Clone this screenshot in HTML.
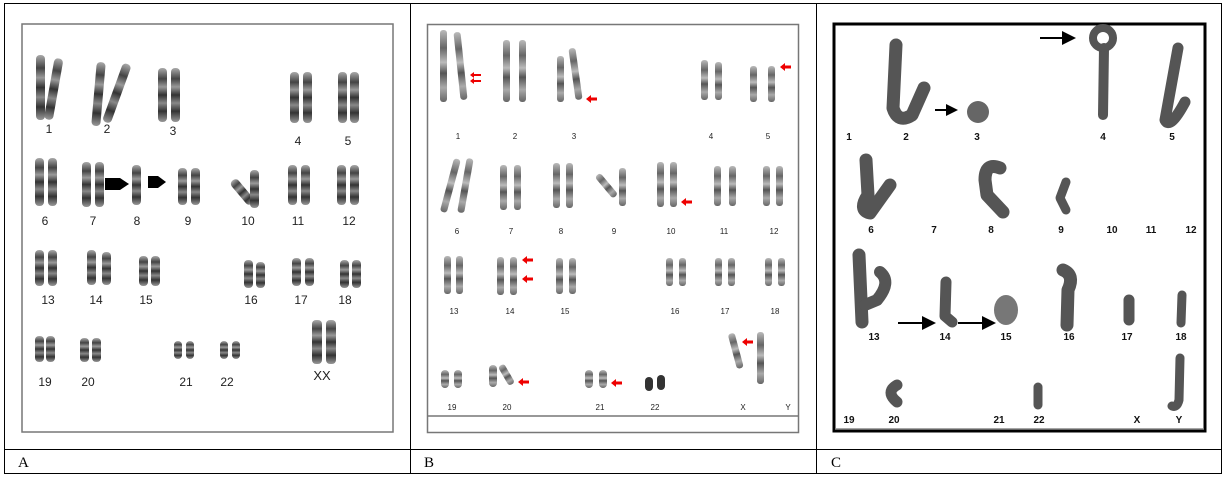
<!DOCTYPE html>
<html><head><meta charset="utf-8"><style>
html,body{margin:0;padding:0;background:#fff;width:1225px;height:477px;overflow:hidden}
svg{display:block}
.la{font-family:"Liberation Sans",sans-serif;font-size:12px;fill:#222;text-anchor:middle}
.lb{font-family:"Liberation Sans",sans-serif;font-size:8px;fill:#222;text-anchor:middle}
.lc{font-family:"Liberation Sans",sans-serif;font-size:10px;font-weight:bold;fill:#111;text-anchor:middle}
.cap{font-family:"Liberation Serif",serif;font-size:15px;fill:#000}
</style></head><body>
<svg width="1225" height="477" viewBox="0 0 1225 477">
<defs>
<linearGradient id="bd" x1="0" y1="0" x2="0" y2="1">
<stop offset="0" stop-color="#aaa"/><stop offset=".2" stop-color="#444"/><stop offset=".35" stop-color="#999"/><stop offset=".5" stop-color="#333"/><stop offset=".65" stop-color="#888"/><stop offset=".8" stop-color="#333"/><stop offset="1" stop-color="#999"/>
</linearGradient>
<linearGradient id="bl" x1="0" y1="0" x2="0" y2="1">
<stop offset="0" stop-color="#bbb"/><stop offset=".25" stop-color="#666"/><stop offset=".45" stop-color="#bbb"/><stop offset=".6" stop-color="#555"/><stop offset=".8" stop-color="#aaa"/><stop offset="1" stop-color="#666"/>
</linearGradient>
</defs>
<!-- table -->
<rect x="4.5" y="3.5" width="1217" height="470" fill="none" stroke="#000"/>
<line x1="4" y1="449.5" x2="1222" y2="449.5" stroke="#000"/>
<line x1="410.5" y1="3" x2="410.5" y2="474" stroke="#000"/>
<line x1="816.5" y1="3" x2="816.5" y2="474" stroke="#000"/>
<text class="cap" x="18" y="467">A</text>
<text class="cap" x="424" y="467">B</text>
<text class="cap" x="831" y="467" fill="#223">C</text>

<!-- Panel A -->
<rect x="22" y="24" width="371" height="408" fill="none" stroke="#777" stroke-width="1.5"/>
<g fill="url(#bd)">
<rect x="36" y="55" width="9" height="65" rx="4"/><rect x="49" y="58" width="9" height="62" rx="4" transform="rotate(10 53 90)"/>
<rect x="94" y="62" width="9" height="64" rx="4" transform="rotate(5 98 94)"/><rect x="112" y="62" width="9" height="62" rx="4" transform="rotate(20 116 94)"/>
<rect x="158" y="68" width="9" height="54" rx="4"/><rect x="171" y="68" width="9" height="54" rx="4"/>
<rect x="290" y="72" width="9" height="51" rx="4"/><rect x="303" y="72" width="9" height="51" rx="4"/>
<rect x="338" y="72" width="9" height="51" rx="4"/><rect x="350" y="72" width="9" height="51" rx="4"/>
<rect x="35" y="158" width="9" height="48" rx="4"/><rect x="48" y="158" width="9" height="48" rx="4"/>
<rect x="82" y="162" width="9" height="45" rx="4"/><rect x="95" y="162" width="9" height="45" rx="4"/>
<rect x="132" y="165" width="9" height="40" rx="4"/>
<rect x="178" y="168" width="9" height="37" rx="4"/><rect x="191" y="168" width="9" height="37" rx="4"/>
<rect x="236" y="178" width="9" height="30" rx="4" transform="rotate(-40 240 190)"/><rect x="250" y="170" width="9" height="38" rx="4"/>
<rect x="288" y="165" width="9" height="40" rx="4"/><rect x="301" y="165" width="9" height="40" rx="4"/>
<rect x="337" y="165" width="9" height="40" rx="4"/><rect x="350" y="165" width="9" height="40" rx="4"/>
<rect x="35" y="250" width="9" height="36" rx="4"/><rect x="48" y="250" width="9" height="36" rx="4"/>
<rect x="87" y="250" width="9" height="35" rx="4"/><rect x="102" y="252" width="9" height="33" rx="4"/>
<rect x="139" y="256" width="9" height="30" rx="4"/><rect x="151" y="256" width="9" height="30" rx="4"/>
<rect x="244" y="260" width="9" height="28" rx="4"/><rect x="256" y="262" width="9" height="26" rx="4"/>
<rect x="292" y="258" width="9" height="28" rx="4"/><rect x="305" y="258" width="9" height="28" rx="4"/>
<rect x="340" y="260" width="9" height="28" rx="4"/><rect x="352" y="260" width="9" height="28" rx="4"/>
<rect x="35" y="336" width="9" height="26" rx="4"/><rect x="46" y="336" width="9" height="26" rx="4"/>
<rect x="80" y="338" width="9" height="24" rx="4"/><rect x="92" y="338" width="9" height="24" rx="4"/>
<rect x="174" y="341" width="8" height="18" rx="4"/><rect x="186" y="341" width="8" height="18" rx="4"/>
<rect x="220" y="341" width="8" height="18" rx="4"/><rect x="232" y="341" width="8" height="18" rx="4"/>
<rect x="312" y="320" width="10" height="44" rx="4"/><rect x="326" y="320" width="10" height="44" rx="4"/>
</g>
<path d="M105 178h15l9 6-9 6h-15z" fill="#000"/>
<path d="M148 176h10l8 6-8 6h-10z" fill="#000"/>
<g class="la">
<text x="49" y="133">1</text><text x="107" y="133">2</text><text x="173" y="135">3</text><text x="298" y="145">4</text><text x="348" y="145">5</text>
<text x="45" y="225">6</text><text x="93" y="225">7</text><text x="137" y="225">8</text><text x="188" y="225">9</text><text x="248" y="225">10</text><text x="298" y="225">11</text><text x="349" y="225">12</text>
<text x="48" y="304">13</text><text x="96" y="304">14</text><text x="146" y="304">15</text><text x="251" y="304">16</text><text x="301" y="304">17</text><text x="345" y="304">18</text>
<text x="45" y="386">19</text><text x="88" y="386">20</text><text x="186" y="386">21</text><text x="227" y="386">22</text><text x="322" y="380" style="font-size:13px">XX</text>
</g>

<!-- Panel B -->
<rect x="427.5" y="24.5" width="371" height="408" fill="none" stroke="#777" stroke-width="1.5"/>
<line x1="427" y1="416" x2="799" y2="416" stroke="#777" stroke-width="1.5"/>
<g fill="url(#bl)">
<rect x="440" y="30" width="7" height="72" rx="3"/><rect x="457" y="32" width="7" height="68" rx="3" transform="rotate(-6 460 66)"/>
<rect x="503" y="40" width="7" height="62" rx="3"/><rect x="519" y="40" width="7" height="62" rx="3"/>
<rect x="557" y="56" width="7" height="46" rx="3"/><rect x="572" y="48" width="7" height="52" rx="3" transform="rotate(-8 575 74)"/>
<rect x="701" y="60" width="7" height="40" rx="3"/><rect x="715" y="62" width="7" height="38" rx="3"/>
<rect x="750" y="66" width="7" height="36" rx="3"/><rect x="768" y="66" width="7" height="36" rx="3"/>
<rect x="447" y="158" width="7" height="55" rx="3" transform="rotate(15 450 185)"/><rect x="462" y="158" width="7" height="55" rx="3" transform="rotate(10 465 185)"/>
<rect x="500" y="165" width="7" height="45" rx="3"/><rect x="514" y="165" width="7" height="45" rx="3"/>
<rect x="553" y="163" width="7" height="45" rx="3"/><rect x="566" y="163" width="7" height="45" rx="3"/>
<rect x="603" y="172" width="7" height="28" rx="3" transform="rotate(-40 606 186)"/><rect x="619" y="168" width="7" height="38" rx="3"/>
<rect x="657" y="162" width="7" height="45" rx="3"/><rect x="670" y="162" width="7" height="45" rx="3"/>
<rect x="714" y="166" width="7" height="40" rx="3"/><rect x="729" y="166" width="7" height="40" rx="3"/>
<rect x="763" y="166" width="7" height="40" rx="3"/><rect x="776" y="166" width="7" height="40" rx="3"/>
<rect x="444" y="256" width="7" height="38" rx="3"/><rect x="456" y="256" width="7" height="38" rx="3"/>
<rect x="497" y="257" width="7" height="38" rx="3"/><rect x="510" y="257" width="7" height="38" rx="3"/>
<rect x="556" y="258" width="7" height="36" rx="3"/><rect x="569" y="258" width="7" height="36" rx="3"/>
<rect x="666" y="258" width="7" height="28" rx="3"/><rect x="679" y="258" width="7" height="28" rx="3"/>
<rect x="715" y="258" width="7" height="28" rx="3"/><rect x="728" y="258" width="7" height="28" rx="3"/>
<rect x="765" y="258" width="7" height="28" rx="3"/><rect x="778" y="258" width="7" height="28" rx="3"/>
<rect x="441" y="370" width="8" height="18" rx="4"/><rect x="454" y="370" width="8" height="18" rx="4"/>
<rect x="489" y="365" width="8" height="22" rx="4"/><rect x="503" y="364" width="7" height="22" rx="3" transform="rotate(-30 506 375)"/>
<rect x="585" y="370" width="8" height="18" rx="4"/><rect x="599" y="370" width="8" height="18" rx="4"/>
<rect x="645" y="377" width="8" height="14" rx="4" fill="#333"/><rect x="657" y="375" width="8" height="15" rx="4" fill="#333"/>
<rect x="732" y="333" width="7" height="36" rx="3" transform="rotate(-15 735 350)"/><rect x="757" y="332" width="7" height="52" rx="3"/>
</g>
<g fill="#e00">
<path d="M470 75l4-3v2h7v2h-7v2z"/><path d="M470 81l4-3v2h7v2h-7v2z"/>
<path d="M586 99l5-4v2.5h6v3h-6v2.5z"/>
<path d="M780 67l5-4v2.5h6v3h-6v2.5z"/>
<path d="M681 202l5-4v2.5h6v3h-6v2.5z"/>
<path d="M522 260l5-4v2.5h6v3h-6v2.5z"/><path d="M522 279l5-4v2.5h6v3h-6v2.5z"/>
<path d="M518 382l5-4v2.5h6v3h-6v2.5z"/><path d="M611 383l5-4v2.5h6v3h-6v2.5z"/>
<path d="M742 342l5-4v2.5h6v3h-6v2.5z"/>
</g>
<g class="lb">
<text x="458" y="139">1</text><text x="515" y="139">2</text><text x="574" y="139">3</text><text x="711" y="139">4</text><text x="768" y="139">5</text>
<text x="457" y="234">6</text><text x="511" y="234">7</text><text x="561" y="234">8</text><text x="614" y="234">9</text><text x="671" y="234">10</text><text x="724" y="234">11</text><text x="774" y="234">12</text>
<text x="454" y="314">13</text><text x="510" y="314">14</text><text x="565" y="314">15</text><text x="675" y="314">16</text><text x="725" y="314">17</text><text x="775" y="314">18</text>
<text x="452" y="410">19</text><text x="507" y="410">20</text><text x="600" y="410">21</text><text x="655" y="410">22</text><text x="743" y="410">X</text><text x="788" y="410">Y</text>
</g>

<!-- Panel C -->
<rect x="834" y="24" width="371" height="407" fill="none" stroke="#000" stroke-width="3"/>
<line x1="835" y1="429" x2="1204" y2="429" stroke="#888" stroke-width="1.5"/>
<g fill="none" stroke="#555" stroke-linecap="round" stroke-linejoin="round">
<path d="M896 45L893 108Q898 124 912 115L924 88" stroke-width="13"/>
<path d="M1104 48L1103 115" stroke-width="10"/>
<circle cx="1103" cy="38" r="10" stroke-width="8"/>
<path d="M1178 48L1165 120Q1170 130 1185 102" stroke-width="11"/>
<path d="M866 160L868 195Q858 210 870 213L890 185" stroke-width="13"/>
<path d="M1000 168Q985 162 985 180L987 195L1003 212" stroke-width="13"/>
<path d="M1066 182L1060 198L1066 210" stroke-width="9"/>
<path d="M859 255L862 322" stroke-width="13"/>
<path d="M880 272Q892 282 877 300L865 305" stroke-width="12"/>
<path d="M946 282L945 316L952 322" stroke-width="11"/>
<path d="M1063 270Q1075 275 1068 290L1067 325" stroke-width="13"/>
<path d="M1129 300L1129 320" stroke-width="11"/>
<path d="M1182 295L1181 323" stroke-width="9"/>
<path d="M897 385Q885 392 897 402" stroke-width="11"/>
<path d="M1038 387L1038 405" stroke-width="9"/>
<path d="M1180 358L1179 400Q1177 408 1172 406" stroke-width="9"/>
</g>
<circle cx="978" cy="112" r="11" fill="#666"/>
<ellipse cx="1006" cy="310" rx="12" ry="15" fill="#777"/>
<g stroke="#000" stroke-width="2">
<line x1="935" y1="110" x2="948" y2="110"/><line x1="1040" y1="38" x2="1064" y2="38"/>
<line x1="898" y1="323" x2="925" y2="323"/><line x1="958" y1="323" x2="985" y2="323"/>
</g>
<g fill="#000">
<path d="M946 104l12 6-12 6z"/><path d="M1062 31l14 7-14 7z"/>
<path d="M922 316l14 7-14 7z"/><path d="M982 316l14 7-14 7z"/>
</g>
<g class="lc">
<text x="849" y="140">1</text><text x="906" y="140">2</text><text x="977" y="140">3</text><text x="1103" y="140">4</text><text x="1172" y="140">5</text>
<text x="871" y="233">6</text><text x="934" y="233">7</text><text x="991" y="233">8</text><text x="1061" y="233">9</text><text x="1112" y="233">10</text><text x="1151" y="233">11</text><text x="1191" y="233">12</text>
<text x="874" y="340">13</text><text x="945" y="340">14</text><text x="1006" y="340">15</text><text x="1069" y="340">16</text><text x="1127" y="340">17</text><text x="1181" y="340">18</text>
<text x="849" y="423">19</text><text x="894" y="423">20</text><text x="999" y="423">21</text><text x="1039" y="423">22</text><text x="1137" y="423">X</text><text x="1179" y="423">Y</text>
</g>
</svg>
</body></html>
